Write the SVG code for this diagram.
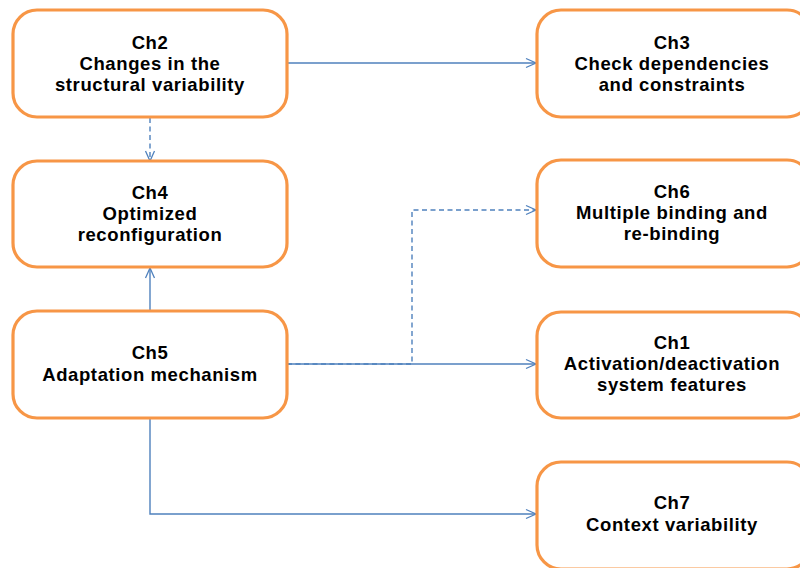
<svg xmlns="http://www.w3.org/2000/svg" width="800" height="568" viewBox="0 0 800 568">
<style>
.box{fill:#fff;stroke:#F79646;stroke-width:3.2}
.t{font-family:"Liberation Sans",Arial,sans-serif;font-weight:bold;font-size:18.5px;letter-spacing:0.6px;fill:#000;text-anchor:middle}
.c{fill:none;stroke:#4F81BD;stroke-width:1.4}
.d{stroke-dasharray:5,3.5}
</style>
<defs>
<marker id="ah" viewBox="0 0 12 12" refX="11" refY="6" markerWidth="12" markerHeight="12" markerUnits="userSpaceOnUse" orient="auto">
<path d="M1,1.5 L11,6 L1,10.5" fill="none" stroke="#4F81BD" stroke-width="1.3"/>
</marker>
</defs>
<rect width="800" height="568" fill="#fff"/>
<g id="connectors">
<path class="c" d="M287,63 H536" marker-end="url(#ah)"/>
<path class="c d" d="M150,118 V161" marker-end="url(#ah)"/>
<path class="c" d="M150,311 V268" marker-end="url(#ah)"/>
<path class="c" d="M287,364 H536" marker-end="url(#ah)"/>
<path class="c d" d="M287,364 H412 V210 H536" marker-end="url(#ah)"/>
<path class="c" d="M150,418 V514 H536" marker-end="url(#ah)"/>
</g>
<g id="ch2"><rect class="box" x="13" y="10" width="274" height="107" rx="24"/>
<text class="t" x="150" y="49">Ch2</text><text class="t" x="150" y="70">Changes in the</text><text class="t" x="150" y="91">structural variability</text></g>
<g id="ch4"><rect class="box" x="13" y="161" width="274" height="106" rx="24"/>
<text class="t" x="150" y="199">Ch4</text><text class="t" x="150" y="220">Optimized</text><text class="t" x="150" y="241">reconfiguration</text></g>
<g id="ch5"><rect class="box" x="13" y="311" width="274" height="107" rx="24"/>
<text class="t" x="150" y="359">Ch5</text><text class="t" x="150" y="381">Adaptation mechanism</text></g>
<g id="ch3"><rect class="box" x="537" y="10" width="274" height="107" rx="24"/>
<text class="t" x="672" y="49">Ch3</text><text class="t" x="672" y="70">Check dependencies</text><text class="t" x="672" y="91">and constraints</text></g>
<g id="ch6"><rect class="box" x="537" y="160" width="274" height="107" rx="24"/>
<text class="t" x="672" y="198">Ch6</text><text class="t" x="672" y="219">Multiple binding and</text><text class="t" x="672" y="240">re-binding</text></g>
<g id="ch1"><rect class="box" x="537" y="312" width="274" height="106" rx="24"/>
<text class="t" x="672" y="349">Ch1</text><text class="t" x="672" y="370">Activation/deactivation</text><text class="t" x="672" y="391">system features</text></g>
<g id="ch7"><rect class="box" x="537" y="462" width="274" height="107" rx="24"/>
<text class="t" x="672" y="509">Ch7</text><text class="t" x="672" y="531">Context variability</text></g>
</svg>
